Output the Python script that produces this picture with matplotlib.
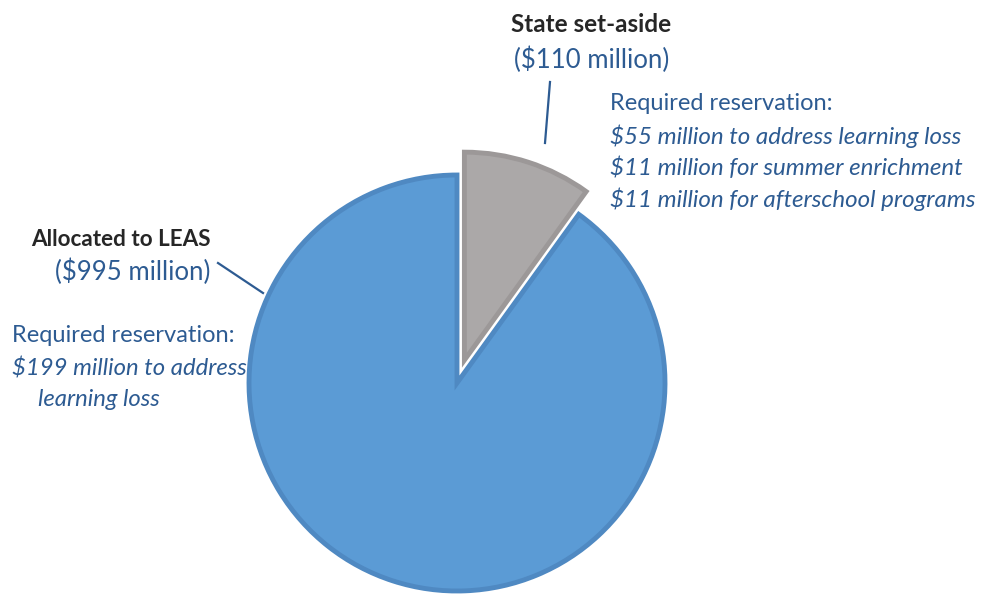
import matplotlib
matplotlib.use("Agg")
import matplotlib.pyplot as plt

labels = ["State set-aside", "Allocated to LEAS"]
amounts = [110, 995]
amount_labels = ["($110 million)", "($995 million)"]
state_reservations = ["$55 million to address learning loss",
                      "$11 million for summer enrichment",
                      "$11 million for afterschool programs"]
lea_reservation = ["$199 million to address", "learning loss"]
colors = ["#ABA8A8", "#5B9BD5"]
edge_colors = ["#9C9898", "#4F89C2"]

W, H = 984, 595
fig = plt.figure(figsize=(W / 100, H / 100), dpi=100)
ax = fig.add_axes([0, 0, 1, 1])

def Y(py):
    return H - py

cx, cy, r = 457, Y(383), 208
wedges, _ = ax.pie(amounts, startangle=90, counterclock=False,
                   colors=colors, radius=r, center=(cx, cy),
                   explode=[24, 0], frame=True,
                   wedgeprops=dict(linewidth=3.5))
for w, ec in zip(wedges, edge_colors):
    w.set_edgecolor(ec)
ax.set_xlim(0, W)
ax.set_ylim(0, H)
ax.set_aspect("equal")
ax.axis("off")

font = "Lato"
dark = "#262626"
blue_txt = "#2D5B92"

ax.text(591, Y(25), labels[0], ha="center", va="center", fontsize=17.5,
        fontweight="bold", color=dark, family=font)
ax.text(592, Y(60), amount_labels[0], ha="center", va="center", fontsize=18.5,
        color=blue_txt, family=font)
ax.plot([550, 545], [Y(82), Y(143)], color=blue_txt, lw=1.6)

ax.text(610, Y(104), "Required reservation:", ha="left", va="center",
        fontsize=17, color=blue_txt, family=font)
for i, s in enumerate(state_reservations):
    ax.text(610, Y(136 + 31.5 * i), s, ha="left", va="center", fontsize=17.4,
            color=blue_txt, family=font, style="italic")

ax.text(121, Y(239), labels[1], ha="center", va="center", fontsize=16.2,
        fontweight="bold", color=dark, family=font)
ax.text(133, Y(272), amount_labels[1], ha="center", va="center", fontsize=18.5,
        color=blue_txt, family=font)
ax.plot([218, 263], [Y(263), Y(293)], color=blue_txt, lw=1.6)

ax.text(12, Y(336), "Required reservation:", ha="left", va="center",
        fontsize=17, color=blue_txt, family=font)
ax.text(12, Y(368), lea_reservation[0], ha="left", va="center", fontsize=17.2,
        color=blue_txt, family=font, style="italic")
ax.text(38, Y(400), lea_reservation[1], ha="left", va="center", fontsize=17.2,
        color=blue_txt, family=font, style="italic")

fig.savefig("out.png", dpi=100)
